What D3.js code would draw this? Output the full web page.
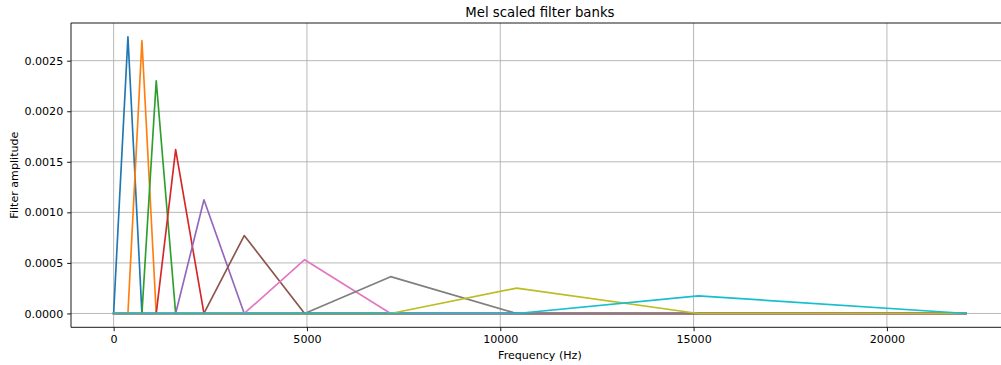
<!DOCTYPE html>
<html>
<head>
<meta charset="utf-8">
<script src="https://cdn.jsdelivr.net/npm/d3@7"></script>
<style>
  html, body { margin: 0; padding: 0; background: #fff; }
  svg { display: block; font-family: "DejaVu Sans", sans-serif; }
</style>
</head>
<body>
<svg id="chart" width="1001" height="365"></svg>
<script>
// Filter edge frequencies (Hz): filter i rises from edge[i], peaks at edge[i+1], falls to edge[i+2]
const edgeHz = [0, 370, 732, 1102, 1604, 2336, 3378, 4940, 7165, 10424, 15122, 22050];
// Peak amplitude of each filter
const peakAmp = [0.002736, 0.002698, 0.002302, 0.001620, 0.001124, 0.000771, 0.000532, 0.000364, 0.000251, 0.000174];
const seriesColors = ["#1f77b4", "#ff7f0e", "#2ca02c", "#d62728", "#9467bd", "#8c564b", "#e377c2", "#7f7f7f", "#bcbd22", "#17becf"];
const xTicks = [0, 5000, 10000, 15000, 20000];
const yTicks = [0, 0.0005, 0.0010, 0.0015, 0.0020, 0.0025];
const fMax = 22050;

const svg = d3.select("#chart");
const L = 71, T = 23, R = 1008.8, B = 327.3;

const xPad = 0.05 * fMax;
const yMax = d3.max(peakAmp);
const yPad = 0.05 * yMax;
const x = d3.scaleLinear().domain([-xPad, fMax + xPad]).range([L, R]);
const y = d3.scaleLinear().domain([-yPad, yMax + yPad]).range([B, T]);

// grid
const grid = svg.append("g");
grid.selectAll("line.gx").data(xTicks).join("line")
  .attr("x1", d => x(d)).attr("x2", d => x(d)).attr("y1", T).attr("y2", B)
  .attr("stroke", "#b0b0b0").attr("stroke-width", 0.9);
grid.selectAll("line.gy").data(yTicks).join("line")
  .attr("y1", d => y(d)).attr("y2", d => y(d)).attr("x1", L).attr("x2", R)
  .attr("stroke", "#b0b0b0").attr("stroke-width", 0.9);

svg.append("clipPath").attr("id", "clip").append("rect")
  .attr("x", L).attr("y", T).attr("width", R - L).attr("height", B - T);

// filters
const filters = peakAmp.map((a, i) => {
  const pts = [];
  if (edgeHz[i] > 0) pts.push([0, 0]);
  pts.push([edgeHz[i], 0]);
  pts.push([edgeHz[i + 1], a]);
  pts.push([edgeHz[i + 2], 0]);
  if (edgeHz[i + 2] < fMax) pts.push([fMax, 0]);
  return pts;
});
const line = d3.line().x(d => x(d[0])).y(d => y(d[1]));
svg.append("g").attr("clip-path", "url(#clip)")
  .selectAll("path").data(filters).join("path")
  .attr("d", line).attr("fill", "none")
  .attr("stroke", (d, i) => seriesColors[i])
  .attr("stroke-width", 1.67).attr("stroke-linejoin", "round").attr("stroke-linecap", "square");

// axes
const xAxis = d3.axisBottom(x).tickValues(xTicks).tickFormat(d3.format("d")).tickSize(3.9).tickPadding(3.9).tickSizeOuter(0);
const yAxis = d3.axisLeft(y).tickValues(yTicks).tickFormat(d3.format(".4f")).tickSize(3.9).tickPadding(3.9).tickSizeOuter(0);
const gx = svg.append("g").attr("transform", `translate(0,${B})`).call(xAxis);
const gy = svg.append("g").attr("transform", `translate(${L},0)`).call(yAxis);
[gx, gy].forEach(g => {
  g.select(".domain").remove();
  g.selectAll(".tick line").attr("stroke", "#000").attr("stroke-width", 0.9);
  g.selectAll(".tick text").attr("fill", "#000").style("font-size", "11.1px").style("font-family", "DejaVu Sans");
});

// spines
svg.append("line").attr("x1", L).attr("x2", L).attr("y1", T).attr("y2", B).attr("stroke", "#000").attr("stroke-width", 0.9);
svg.append("line").attr("x1", L).attr("x2", R).attr("y1", B).attr("y2", B).attr("stroke", "#000").attr("stroke-width", 0.9);
svg.append("line").attr("x1", L).attr("x2", R).attr("y1", T).attr("y2", T).attr("stroke", "#000").attr("stroke-width", 0.9);
svg.append("line").attr("x1", R).attr("x2", R).attr("y1", T).attr("y2", B).attr("stroke", "#000").attr("stroke-width", 0.9);

// labels
svg.append("text").attr("x", (L + R) / 2).attr("y", 16.5).attr("text-anchor", "middle")
  .style("font-size", "13.3px").text("Mel scaled filter banks");
svg.append("text").attr("x", (L + R) / 2).attr("y", 359).attr("text-anchor", "middle")
  .style("font-size", "11.1px").text("Frequency (Hz)");
svg.append("text").attr("transform", `translate(17.5,${(T + B) / 2}) rotate(-90)`).attr("text-anchor", "middle")
  .style("font-size", "11.1px").text("Filter amplitude");
</script>
</body>
</html>
